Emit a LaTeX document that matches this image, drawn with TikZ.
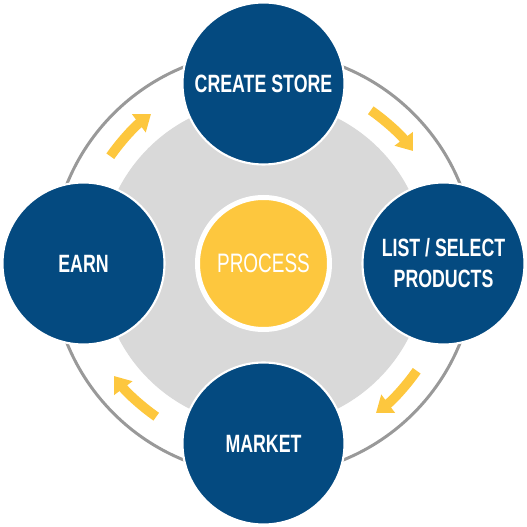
\documentclass[tikz,border=0pt]{standalone}
\usepackage{fontspec}
\setmainfont{Liberation Sans}[FakeStretch=0.71]
\usepackage{tikz}
\usepackage{xcolor}
\usetikzlibrary{arrows.meta,positioning}
\definecolor{stepBlue}{RGB}{4,74,128}
\definecolor{coreYellow}{RGB}{253,199,62}
\definecolor{diskGray}{RGB}{217,217,217}
\definecolor{ringGray}{RGB}{153,153,153}
\tikzset{
  stepcircle/.style={circle,fill=stepBlue,draw=white,line width=1.5pt,minimum size=4.05cm,inner sep=0pt,align=center,text=white,font=\fontsize{17.8}{22}\selectfont\bfseries},
  corecircle/.style={circle,fill=coreYellow,draw=white,line width=0.125cm,minimum size=3.3cm,inner sep=0pt,text=white,font=\fontsize{19}{22}\selectfont},
  flowarrow/.style={coreYellow,line width=0.24cm,-{Triangle[width=0.55cm,length=0.38cm]}}
}
\begin{document}
\begin{tikzpicture}
\useasboundingbox (-6.5875,-6.5875) rectangle (6.5875,6.5875);
\draw[ringGray,line width=0.075cm] (0,0) circle[radius=5.3];
\fill[diskGray] (0,0) circle[radius=4.075];
\coordinate (a1) at (145:4.675);
\coordinate (a2) at (55:4.675);
\coordinate (a3) at (-35:4.675);
\coordinate (a4) at (-125:4.675);
\draw[flowarrow] (a1) arc[start angle=145,end angle=127,radius=4.675];
\draw[flowarrow] (a2) arc[start angle=55,end angle=37,radius=4.675];
\draw[flowarrow] (a3) arc[start angle=-35,end angle=-53,radius=4.675];
\draw[flowarrow] (a4) arc[start angle=-125,end angle=-143,radius=4.675];
\node[stepcircle] (create) at (90:4.5) {CREATE STORE};
\node[stepcircle] (list) at (0:4.5) {LIST / SELECT\\PRODUCTS};
\node[stepcircle] (market) at (-90:4.5) {MARKET};
\node[stepcircle] (earn) at (180:4.5) {EARN};
\node[corecircle] (process) at (0,0) {PROCESS};
\end{tikzpicture}
\end{document}
